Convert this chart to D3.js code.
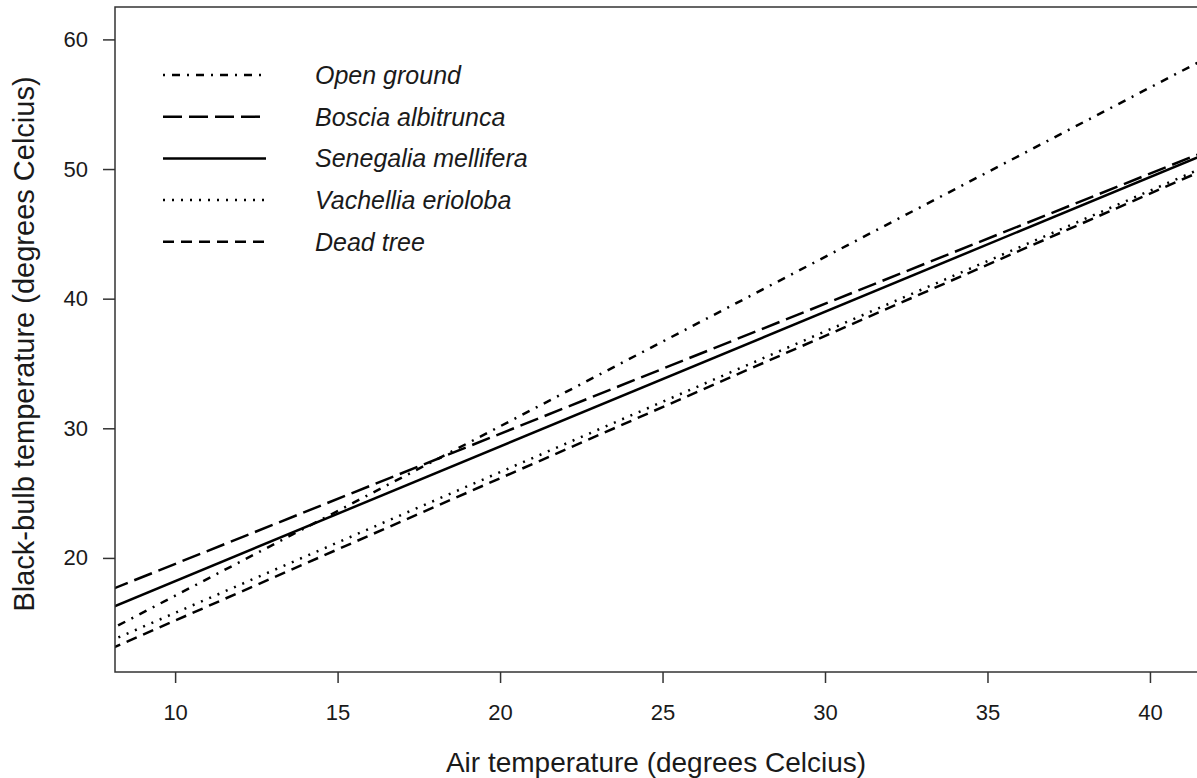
<!DOCTYPE html>
<html>
<head>
<meta charset="utf-8">
<script src="https://cdn.jsdelivr.net/npm/d3@7"></script>
<style>
  body { margin: 0; background: #fff; }
  text { font-family: "Liberation Sans", Arial, sans-serif; fill: #1a1a1a; }
</style>
</head>
<body>
<svg id="chart"></svg>
<script>
// fitted lines, read at x = 8 and x = 42
var series = ['Open ground', 'Boscia albitrunca', 'Senegalia mellifera', 'Vachellia erioloba', 'Dead tree'];
var xEnds = [8, 42];
var openGround = [14.47, 58.9];
var boscia = [17.53, 51.65];
var senegalia = [16.13, 51.46];
var vachellia = [13.59, 50.5];
var deadTree = [12.97, 50.3];
var xTicks = [10, 15, 20, 25, 30, 35, 40];
var yTicks = [20, 30, 40, 50, 60];

var dashes = ['2,7,8,7', '19,7', null, '2,7', '11,7'];
var values = [openGround, boscia, senegalia, vachellia, deadTree];

var W = 1197, H = 778;
var plotL = 115, plotT = 7, plotR = 1200, plotB = 672;

var svg = d3.select('#chart').attr('width', W).attr('height', H);

var x = d3.scaleLinear().domain([8.15, 41.54]).range([plotL, plotR]);
var y = d3.scaleLinear().domain([11.2, 62.5]).range([plotB, plotT]);

svg.append('clipPath').attr('id', 'clip')
  .append('rect').attr('x', plotL).attr('y', plotT)
    .attr('width', plotR - plotL).attr('height', plotB - plotT);

// lines
var line = d3.line()
    .x(function(d) { return x(d[0]); })
    .y(function(d) { return y(d[1]); });

svg.append('g').attr('clip-path', 'url(#clip)')
  .selectAll('path')
    .data(values)
  .enter().append('path')
    .attr('d', function(v) { return line(xEnds.map(function(xe, i) { return [xe, v[i]]; })); })
    .attr('fill', 'none')
    .attr('stroke', '#000')
    .attr('stroke-width', 2.5)
    .attr('stroke-dasharray', function(v, i) { return dashes[i]; });

// box
svg.append('rect')
    .attr('x', plotL).attr('y', plotT)
    .attr('width', plotR - plotL).attr('height', plotB - plotT)
    .attr('fill', 'none').attr('stroke', '#333').attr('stroke-width', 1.5);

// axes
var xAxis = svg.append('g')
    .attr('transform', 'translate(0,' + plotB + ')')
    .call(d3.axisBottom(x).tickValues(xTicks).tickSize(11).tickPadding(21));
var yAxis = svg.append('g')
    .attr('transform', 'translate(' + plotL + ',0)')
    .call(d3.axisLeft(y).tickValues(yTicks).tickSize(12).tickPadding(15));

[xAxis, yAxis].forEach(function(a) {
  a.select('.domain').remove();
  a.selectAll('line').attr('stroke', '#333').attr('stroke-width', 1.5);
  a.selectAll('text').style('font-size', '22px').attr('fill', '#1a1a1a')
    .style('font-family', '"Liberation Sans", Arial, sans-serif');
});

svg.append('text')
    .attr('x', 656).attr('y', 772)
    .attr('text-anchor', 'middle')
    .style('font-size', '28px')
    .text('Air temperature (degrees Celcius)');

svg.append('text')
    .attr('transform', 'translate(34,344) rotate(-90)')
    .attr('text-anchor', 'middle')
    .style('font-size', '29px')
    .text('Black-bulb temperature (degrees Celcius)');

// legend
var legend = svg.append('g').selectAll('g')
    .data(series)
  .enter().append('g')
    .attr('transform', function(d, i) { return 'translate(0,' + (75 + i * 41.7) + ')'; });

legend.append('line')
    .attr('x1', 163).attr('x2', 266)
    .attr('stroke', '#000').attr('stroke-width', 2.5)
    .attr('stroke-dasharray', function(d, i) { return dashes[i]; });

legend.append('text')
    .attr('x', 315).attr('y', 9)
    .style('font-size', '25px')
    .style('font-style', 'italic')
    .text(function(d) { return d; });
</script>
</body>
</html>
